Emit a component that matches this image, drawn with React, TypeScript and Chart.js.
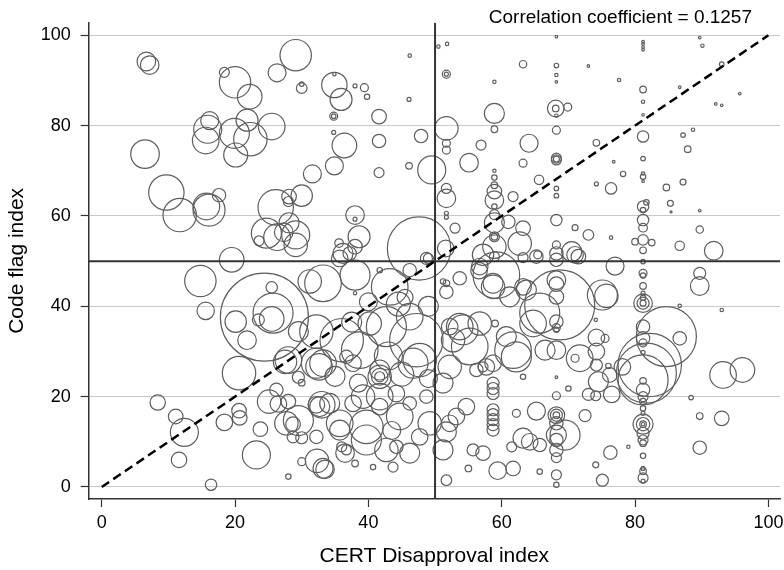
import React, { useEffect, useRef } from "react";
import Chart from "chart.js/auto";

// axis setup
const xTicks = [0, 20, 40, 60, 80, 100];
const yTicks = [0, 20, 40, 60, 80, 100];
const xRange = [-1.95, 101.74];
const yRange = [-2.66, 102.79];

// reference lines
const cutoffX = 50;
const cutoffY = 50;
const diagonal = [0, 100];
const correlation = 0.1257;

// [CERT disapproval, code flag, bubble radius px]
const bubbles: [number, number, number][] = [
  // upper left
  [6.7, 94.2, 9.3], [7.2, 93.4, 9.3], [18.4, 91.8, 5], [20.0, 89.6, 15.7], [22.2, 86.4, 12.3],
  [26.3, 91.7, 9], [29.1, 95.6, 15.7], [30.0, 88.3, 5.3], [30.0, 89.2, 2.3], [16.2, 81.1, 9],
  [15.9, 79.2, 14], [15.6, 76.7, 13.3], [19.9, 78.3, 15], [21.8, 81.2, 11], [22.3, 77.0, 16.7],
  [25.5, 79.8, 13.3], [20.1, 73.5, 12], [6.5, 73.7, 14.3], [31.6, 69.3, 9], [9.7, 65.2, 17.7],
  [11.7, 60.2, 16.7], [15.7, 62.1, 13.3], [16.1, 61.3, 16], [17.6, 64.6, 6.7], [26.1, 61.9, 17.7],
  [28.1, 64.3, 7.3], [28.0, 63.2, 5], [30.0, 64.5, 10.7], [24.7, 56.2, 15], [23.6, 54.5, 5],
  [26.3, 55.3, 13.3], [27.3, 56.4, 9.3], [28.1, 58.5, 10], [29.1, 55.8, 14], [29.1, 53.6, 11.7],
  [19.5, 50.3, 12.3],
  // lower left
  [14.8, 45.6, 15.7], [15.6, 39.0, 8.7], [24.4, 37.6, 44], [25.5, 44.2, 5.7], [25.7, 38.5, 20],
  [25.5, 37.2, 12.3], [23.5, 37.0, 6], [20.1, 36.6, 10.7], [21.8, 32.5, 9.3], [31.2, 45.5, 11.7],
  [29.5, 34.4, 10], [28.0, 28.1, 13.3], [29.5, 24.3, 6], [30.0, 23.1, 3.3], [20.6, 25.2, 16.7],
  [8.4, 18.7, 7.7], [11.1, 15.6, 7.3], [12.4, 12.1, 14], [11.6, 6.0, 7.7], [16.4, 0.5, 5.7],
  [18.4, 14.3, 8.3], [20.6, 16.9, 7.3], [20.7, 15.3, 7.3], [23.8, 12.8, 7.3], [23.2, 7.1, 14],
  [28.0, 2.3, 2.7], [30.0, 5.6, 4], [32.3, 5.8, 11.7], [26.2, 21.5, 6.7], [25.1, 18.9, 11.7],
  [26.5, 18.4, 8.3], [28.0, 18.9, 7.3], [27.7, 14.1, 11.7], [28.7, 13.9, 7.3], [29.5, 14.7, 15],
  [28.7, 11.1, 6], [30.0, 10.9, 6], [32.2, 18.2, 8.3], [32.6, 26.6, 13.3], [32.2, 34.4, 16.7],
  [32.2, 27.4, 15], [27.5, 27.7, 11.7], [33.5, 3.9, 9.3], [36.5, 7.5, 9.3], [36.0, 8.9, 5],
  [32.2, 11.1, 6.7], [35.7, 12.6, 10], [33.0, 18.2, 13.3], [44.2, 8.9, 6.7],
  // upper middle
  [46.2, 95.5, 1.7], [50.5, 97.5, 1.7], [51.8, 98.1, 1.7], [51.7, 91.4, 4], [51.7, 91.4, 2],
  [58.9, 89.7, 1.7], [63.2, 93.6, 3.7], [34.9, 91.4, 1.7], [34.9, 89.0, 12.7], [35.9, 85.8, 11],
  [38.0, 88.8, 2], [39.4, 88.4, 4], [39.8, 86.4, 2.7], [46.1, 85.8, 2], [34.8, 82.1, 4],
  [34.8, 82.1, 2.3], [41.6, 82.0, 7.3], [34.8, 78.5, 2], [36.4, 75.6, 12.3], [41.6, 76.6, 6.7],
  [47.9, 77.7, 6.7], [34.9, 71.1, 9], [41.6, 69.6, 5], [46.1, 71.1, 3.3], [49.5, 70.2, 14],
  [51.7, 79.4, 11.7], [51.7, 76.1, 4], [51.7, 74.6, 4], [56.9, 75.7, 5], [58.9, 82.7, 10],
  [58.9, 79.2, 3.3], [55.1, 71.8, 9.3], [58.9, 70.0, 1.7], [58.9, 68.5, 2.7], [58.9, 66.8, 3.3],
  [58.9, 65.4, 7.3], [58.9, 63.5, 9.3], [58.9, 62.1, 2.7], [58.9, 60.3, 5], [64.1, 76.1, 9],
  [63.2, 71.7, 4], [65.6, 68.0, 4.7], [61.7, 64.3, 5], [51.7, 66.1, 5], [51.7, 63.9, 9.3],
  [51.7, 60.6, 2], [51.7, 59.7, 2], [53.0, 57.3, 5], [38.0, 60.2, 9.3], [38.0, 59.3, 2],
  [38.6, 55.4, 11], [35.6, 54.0, 4.3], [38.0, 53.2, 7.3], [36.2, 51.7, 10], [47.6, 52.8, 31.7],
  [48.7, 50.6, 6], [51.6, 52.8, 8.3], [58.9, 58.5, 10], [58.9, 55.4, 5], [58.9, 55.4, 3.3],
  [58.9, 53.2, 11.7], [61.0, 58.7, 6.7], [63.2, 57.3, 7.3], [62.7, 53.9, 11.7], [57.2, 51.4, 10.7],
  [65.2, 51.0, 6.7],
  // upper right
  [68.2, 99.7, 1.3], [68.2, 93.3, 2.3], [68.2, 91.2, 1.7], [68.2, 89.7, 1.3], [73.0, 93.2, 1.3],
  [77.6, 90.1, 1.7], [81.2, 98.6, 1.3], [81.2, 98.1, 1.3], [81.2, 97.4, 1.3], [81.2, 96.8, 1.3],
  [81.2, 88.0, 3.3], [81.2, 85.3, 1.7], [81.2, 82.4, 1.3], [86.7, 88.5, 1.3], [89.7, 99.5, 1.3],
  [90.1, 97.7, 1.7], [93.0, 93.6, 2.3], [92.1, 84.8, 1.3], [93.0, 84.5, 1.3], [95.7, 87.1, 1.3],
  [68.1, 83.8, 8.3], [68.1, 83.8, 3.3], [69.9, 84.1, 4], [68.2, 82.2, 1.7], [68.2, 79.0, 4],
  [87.2, 77.9, 2.3], [88.7, 79.1, 1.7], [81.2, 77.6, 5.7], [74.2, 76.2, 3.3], [87.9, 74.8, 3.3],
  [68.2, 72.8, 5], [68.2, 72.4, 5], [68.2, 72.6, 3], [81.2, 72.7, 2.3], [76.8, 72.0, 1.3],
  [78.2, 69.3, 2.7], [81.2, 69.4, 1.7], [81.2, 68.7, 2.7], [81.2, 67.7, 1.3], [68.2, 66.1, 2.3],
  [68.2, 64.5, 2.3], [74.2, 67.1, 2], [76.4, 66.1, 5.7], [84.7, 66.3, 3.3], [87.2, 67.5, 3],
  [81.7, 63.0, 2.7], [81.2, 62.1, 5.7], [81.2, 61.3, 2.7], [85.3, 62.8, 3], [85.4, 60.9, 1],
  [89.7, 61.2, 1.3], [68.2, 59.1, 5.7], [71.0, 57.4, 3], [73.0, 55.8, 5.3], [76.4, 55.2, 1.7],
  [81.2, 59.1, 5.7], [81.2, 57.4, 4.3], [81.2, 54.7, 5.3], [80.0, 54.3, 3.3], [82.5, 54.1, 3.3],
  [81.2, 52.4, 3.3], [86.7, 53.4, 4.7], [89.7, 57.0, 3.7], [91.8, 52.3, 9.3], [68.2, 53.6, 4],
  [68.2, 51.7, 6.7], [70.5, 52.1, 10], [71.0, 51.4, 8.3], [77.0, 48.9, 9], [71.5, 51.0, 7.3],
  // lower right
  [89.7, 47.3, 6], [89.7, 44.5, 9.3], [81.2, 49.9, 2.3], [81.2, 47.3, 4], [81.2, 46.8, 2.7],
  [81.2, 44.5, 3.3], [81.2, 40.7, 9.3], [81.2, 40.7, 6], [81.2, 40.7, 3], [81.2, 41.9, 2.7],
  [81.2, 42.9, 2], [86.7, 40.1, 1.7], [93.0, 39.2, 1.7], [84.7, 33.3, 30], [86.7, 32.9, 6.7],
  [82.2, 27.0, 31.7], [81.7, 25.2, 30], [81.2, 23.7, 25], [81.2, 35.5, 6.7], [81.2, 32.9, 6.7],
  [81.2, 31.9, 4], [81.2, 29.8, 2], [81.2, 23.5, 3.3], [81.2, 21.5, 6.7], [81.2, 20.0, 5],
  [81.2, 18.9, 3.3], [81.2, 17.4, 2.7], [81.2, 16.3, 2], [81.2, 13.9, 10], [81.2, 13.9, 6.7],
  [81.2, 13.9, 3.3], [81.2, 13.9, 1.7], [81.2, 11.9, 6], [81.2, 10.4, 5], [81.2, 9.7, 3.3],
  [81.2, 6.9, 2.7], [81.2, 4.1, 2], [81.2, 3.5, 3.3], [81.2, 2.0, 5], [81.2, 1.3, 2],
  [78.1, 26.6, 8.3], [76.2, 24.8, 7.3], [76.0, 26.8, 2.7], [74.5, 23.3, 10], [76.5, 20.5, 8.3],
  [73.0, 20.5, 6], [74.1, 20.2, 5], [74.2, 33.1, 8.3], [75.5, 32.9, 4], [74.2, 30.0, 8.3],
  [74.2, 27.0, 6], [71.7, 28.5, 13.3], [71.0, 28.5, 4], [75.1, 42.5, 15], [75.7, 42.3, 11.7],
  [74.1, 37.0, 1.7], [68.2, 50.3, 6.7], [68.2, 45.8, 9.3], [68.2, 44.9, 7.3], [68.2, 42.1, 7.3],
  [68.7, 40.3, 35], [68.2, 36.6, 6.7], [68.2, 35.3, 4], [68.2, 34.8, 2.7], [66.5, 30.3, 10],
  [68.2, 30.3, 9.3], [68.2, 24.3, 1.3], [70.0, 21.8, 2.7], [68.2, 20.2, 4], [68.2, 15.9, 8.3],
  [68.2, 15.9, 6], [68.2, 15.9, 3.3], [68.2, 14.1, 6.7], [69.5, 11.5, 15], [68.2, 11.5, 10],
  [68.2, 10.4, 6.7], [68.2, 8.2, 6.7], [68.2, 6.5, 5], [68.2, 2.7, 5], [68.2, 0.5, 2.7],
  [65.7, 3.4, 2.7], [72.5, 15.8, 6], [76.3, 7.6, 6.7], [74.1, 4.9, 3], [75.1, 1.5, 6],
  [79.0, 8.9, 1.7], [88.4, 19.8, 2.3], [89.7, 15.7, 3.3], [93.0, 15.2, 7.3], [89.7, 8.7, 6.7],
  [93.2, 24.8, 13.3], [96.1, 25.9, 12.3],
  // middle band, left of cutoff
  [35.7, 50.6, 8.3], [37.2, 51.7, 6.7], [49.0, 50.6, 5], [33.2, 45.1, 18.3], [38.0, 46.9, 15],
  [38.0, 42.9, 1.7], [41.7, 48.0, 2.7], [43.2, 44.3, 18.3], [46.2, 48.0, 6.7], [36.0, 32.5, 21.7],
  [33.2, 27.4, 13.3], [38.7, 30.3, 18.3], [40.2, 36.2, 11.7], [42.7, 35.5, 20], [47.2, 32.5, 26.7],
  [46.2, 37.7, 13.3], [47.7, 28.1, 16.7], [41.7, 24.4, 11.7], [41.7, 24.4, 8.3], [41.7, 24.4, 5],
  [41.7, 25.9, 10], [36.7, 28.8, 6.7], [37.7, 27.4, 8.3], [34.2, 18.5, 10], [32.7, 17.8, 10],
  [37.7, 18.5, 8.3], [39.2, 20.0, 11.7], [41.7, 20.0, 13.3], [41.7, 17.8, 8.3], [46.2, 18.5, 6.7],
  [48.7, 20.0, 6.7], [44.7, 15.6, 13.3], [39.7, 13.3, 16.7], [35.7, 14.1, 13.3], [36.7, 8.2, 5],
  [33.2, 4.1, 10], [38.0, 5.2, 3.3], [40.7, 4.4, 2.7], [43.7, 4.4, 5], [42.7, 8.2, 11.7],
  [46.2, 7.5, 10], [47.7, 11.1, 8.3], [49.2, 14.1, 11.7], [44.2, 20.7, 8.3], [39.7, 10.4, 15],
  [44.5, 40.5, 12], [40.0, 41.0, 9], [45.5, 42.0, 8], [49.0, 40.0, 10], [43.0, 29.0, 14],
  [45.0, 25.0, 12], [49.0, 24.0, 9], [38.5, 23.0, 9], [35.0, 24.5, 10], [43.5, 12.5, 9],
  [37.5, 36.5, 10], [46.7, 27.4, 15],
  // middle band, right of cutoff
  [56.7, 48.8, 8.3], [58.9, 51.0, 5], [63.2, 50.8, 5], [65.4, 51.4, 4], [51.7, 45.1, 3.3],
  [51.7, 43.2, 6.7], [53.7, 46.2, 6.7], [51.2, 45.5, 2.7], [56.6, 47.9, 8.3], [58.7, 45.1, 10],
  [59.2, 46.9, 23.3], [61.2, 42.1, 10], [63.2, 44.3, 8.3], [65.7, 38.5, 20], [53.7, 35.5, 13.3],
  [55.2, 31.1, 18.3], [52.7, 32.5, 11.7], [58.7, 27.4, 8.3], [58.7, 23.0, 6], [58.7, 21.8, 6],
  [58.7, 20.7, 6], [62.2, 28.8, 15], [63.2, 24.4, 2.7], [60.7, 33.3, 10], [56.2, 25.9, 6.7],
  [57.2, 26.6, 5], [51.2, 23.0, 10], [54.7, 17.8, 8.3], [53.2, 15.6, 8.3], [51.7, 12.2, 10],
  [52.2, 14.1, 8.3], [51.2, 8.2, 10], [51.7, 1.5, 5.3], [55.0, 4.1, 3.3], [58.7, 17.1, 6],
  [58.7, 16.0, 6], [58.7, 14.9, 6], [58.7, 13.8, 6], [58.7, 12.6, 6], [55.7, 8.2, 6],
  [57.2, 7.5, 7.3], [59.4, 3.6, 8.8], [61.7, 4.1, 7.3], [61.5, 8.9, 5], [63.2, 10.8, 10],
  [64.2, 10.0, 8.3], [65.7, 9.3, 6.7], [62.2, 16.3, 4], [65.2, 16.8, 9], [54.2, 34.8, 15],
  [56.7, 36.2, 11.7], [59.0, 36.2, 3.3], [61.7, 30.3, 18.3], [57.7, 26.6, 8.3], [52.2, 35.5, 8.3],
  [52.2, 26.6, 11.7], [64.7, 36.2, 13.3], [63.7, 43.6, 10], [58.7, 44.3, 11.7],
];

const FONT = '"Liberation Sans", Arial, Helvetica, sans-serif';

const notePlugin = {
  id: "corrNote",
  afterDraw(chart: any) {
    const { ctx, chartArea } = chart;
    ctx.save();
    ctx.font = `19px ${FONT}`;
    ctx.fillStyle = "#000";
    ctx.textAlign = "right";
    ctx.textBaseline = "alphabetic";
    ctx.fillText(`Correlation coefficient = ${correlation}`, chartArea.right - 28, 22.5);
    ctx.restore();
  },
};

const BubbleScatter: React.FC = () => {
  const chartRef = useRef<HTMLCanvasElement>(null);

  useEffect(() => {
    if (!chartRef.current) return;
    const ctx = chartRef.current.getContext("2d");
    if (!ctx) return;

    const chart = new Chart(ctx, {
      type: "bubble",
      data: {
        datasets: [
          {
            type: "line",
            data: [
              { x: diagonal[0], y: diagonal[0] },
              { x: diagonal[1], y: diagonal[1] },
            ],
            borderColor: "#000",
            borderWidth: 2.5,
            borderDash: [9, 5],
            pointRadius: 0,
            fill: false,
            order: 0,
          } as any,
          {
            type: "line",
            data: [
              { x: xRange[0], y: cutoffY },
              { x: xRange[1], y: cutoffY },
            ],
            borderColor: "#333",
            borderWidth: 2,
            pointRadius: 0,
            fill: false,
            order: 1,
          } as any,
          {
            type: "line",
            data: [
              { x: cutoffX, y: yRange[0] },
              { x: cutoffX, y: yRange[1] },
            ],
            borderColor: "#333",
            borderWidth: 2,
            pointRadius: 0,
            fill: false,
            order: 1,
          } as any,
          {
            type: "bubble",
            data: bubbles.map(([x, y, r]) => ({ x, y, r })),
            backgroundColor: "rgba(0,0,0,0)",
            borderColor: "#5e5e5e",
            borderWidth: 1.2,
            order: 2,
          },
        ],
      },
      options: {
        animation: false,
        responsive: true,
        maintainAspectRatio: false,
        layout: { autoPadding: false, padding: { top: 22.7, right: 4, left: 0, bottom: 0 } },
        plugins: {
          legend: { display: false },
          tooltip: { enabled: false },
        },
        scales: {
          x: {
            type: "linear",
            min: xRange[0],
            max: xRange[1],
            afterBuildTicks: (s: any) => {
              s.ticks = xTicks.map((v) => ({ value: v }));
            },
            afterFit: (s: any) => {
              s.height = 71;
              s.paddingLeft = 0;
              s.paddingRight = 0;
            },
            grid: {
              drawOnChartArea: false,
              drawTicks: true,
              tickLength: 8,
              tickColor: "#333",
              tickWidth: 1.2,
            },
            border: { display: true, color: "#333", width: 1.5 },
            ticks: {
              color: "#000",
              font: { family: FONT, size: 18 },
              padding: 5,
              maxRotation: 0,
              autoSkip: false,
            },
            title: {
              display: true,
              text: "CERT Disapproval index",
              color: "#000",
              font: { family: FONT, size: 21 },
              padding: { top: 0, bottom: 1 },
            },
          },
          y: {
            type: "linear",
            min: yRange[0],
            max: yRange[1],
            afterBuildTicks: (s: any) => {
              s.ticks = yTicks.map((v) => ({ value: v }));
            },
            afterFit: (s: any) => {
              s.width = 88.7;
              s.paddingTop = 0;
              s.paddingBottom = 0;
            },
            grid: {
              color: "#c8c8c8",
              lineWidth: 1,
              drawTicks: true,
              tickLength: 8,
              tickColor: "#333",
              tickWidth: 1.2,
            },
            border: { display: true, color: "#333", width: 1.5 },
            ticks: {
              color: "#000",
              font: { family: FONT, size: 18 },
              padding: 10,
              autoSkip: false,
            },
            title: {
              display: true,
              text: "Code flag index",
              color: "#000",
              font: { family: FONT, size: 21 },
              padding: { top: 5, bottom: 0 },
            },
          },
        },
      },
      plugins: [notePlugin],
    });

    return () => {
      chart.destroy();
    };
  }, []);

  return (
    <div style={{ position: "fixed", left: 0, top: 0, width: "784px", height: "570px", background: "#fff" }}>
      <canvas ref={chartRef}></canvas>
    </div>
  );
};

export default function App() {
  return <BubbleScatter />;
}
